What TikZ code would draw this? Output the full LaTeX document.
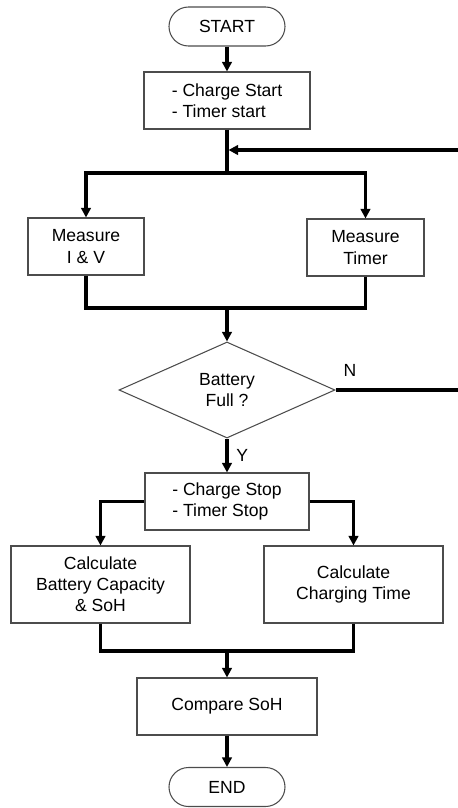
\documentclass[tikz,border=0pt]{standalone}
\usepackage{fontspec}
\setmainfont{Liberation Sans}
\usepackage{tikz}
\usetikzlibrary{arrows.meta,positioning,shapes.geometric,calc}

\begin{document}
\begin{tikzpicture}[
  box/.style={rectangle, draw=black!70, line width=0.6pt, align=center,
    font=\fontsize{10}{12}\selectfont, inner sep=2pt},
  term/.style={box, rounded corners=0.39cm, minimum width=2.32cm, minimum height=0.78cm},
  proc/.style={box, minimum height=1.14cm},
  cond/.style={diamond, draw=black!70, line width=0.6pt, align=center, inner sep=1pt,
    font=\fontsize{10}{12}\selectfont, minimum width=4.32cm, minimum height=1.88cm},
  wire/.style={line width=1.9pt},
  edge/.style={wire, -{Triangle[length=1.9mm, width=1.9mm]}},
  lbl/.style={font=\fontsize{10}{12}\selectfont},
]
  \useasboundingbox (0,0) rectangle (9.16,-16.16);

  \node[term] (start) at (4.54, -0.53) {START};
  \node[proc, minimum width=3.32cm, align=left] (chstart) at (4.54, -2.01)
    {- Charge Start\\- Timer start};
  \node[proc, minimum width=2.32cm] (measIV) at (1.72, -4.93) {Measure\\I \& V};
  \node[proc, minimum width=2.34cm] (measT) at (7.31, -4.95) {Measure\\Timer};
  \node[cond] (full) at (4.54, -7.8) {Battery\\Full ?};
  \node[proc, minimum width=3.28cm, align=left] (chstop) at (4.54, -10.03)
    {- Charge Stop\\- Timer Stop};
  \node[proc, minimum width=3.58cm, minimum height=1.54cm] (calcA) at (2.01, -11.69)
    {Calculate\\Battery Capacity\\\& SoH};
  \node[proc, minimum width=3.58cm, minimum height=1.54cm] (calcB) at (7.07, -11.69)
    {Calculate\\Charging Time};
  \node[proc, minimum width=3.6cm] (compare) at (4.54, -14.13) {Compare SoH};
  \node[term] (done) at (4.54, -15.74) {END};

  % junctions and loose ends
  \coordinate (split1) at (4.54, -3.46);
  \coordinate (merge1) at (4.54, -6.16);
  \coordinate (merge2) at (4.54, -13.02);
  \coordinate (fbin) at (9.16, -3.0);
  \coordinate (fbout) at (9.16, -7.8);

  \draw[edge] (start) -- (chstart);
  \draw[wire] (chstart) -- (split1);
  \draw[edge] (fbin) -- ($(fbin -| split1) + (0.03,0)$);
  \draw[edge] (split1) -| (measIV.north);
  \draw[edge] (split1) -| (measT.north);
  \draw[wire] (measIV.south) |- (merge1);
  \draw[wire] (measT.south) |- (merge1);
  \draw[edge] (merge1) -- (full.north);
  \draw[wire] (full.east) -- (fbout);
  \node[lbl] (nlbl) at (7.0, -7.4) {N};
  \draw[edge] (full.south) -- node[lbl, right=1pt] (ylbl) {Y} (chstop.north);
  \draw[edge] (chstop.west) -| (calcA.north);
  \draw[edge] (chstop.east) -| (calcB.north);
  \draw[wire] (calcA.south) |- (merge2);
  \draw[wire] (calcB.south) |- (merge2);
  \draw[edge] (merge2) -- (compare);
  \draw[edge] (compare) -- (done);
\end{tikzpicture}
\end{document}
